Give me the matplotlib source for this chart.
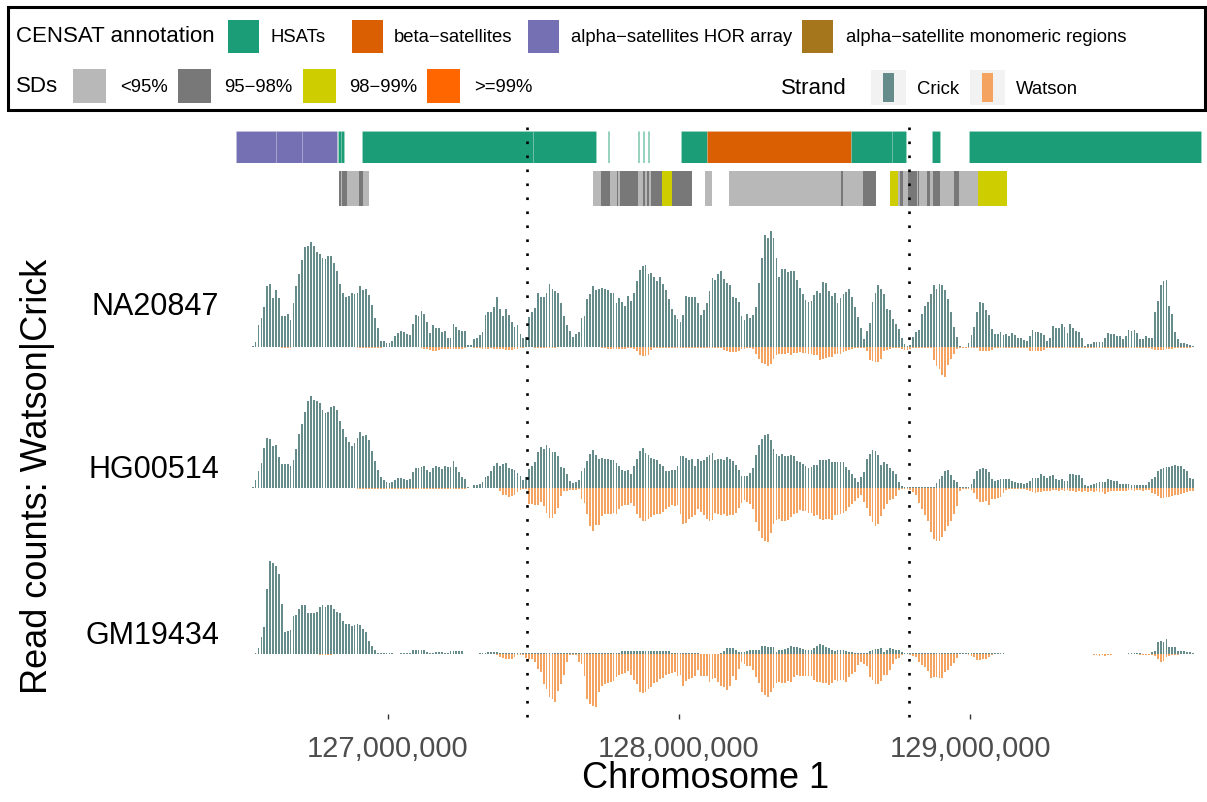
import numpy as np
import matplotlib
matplotlib.use("Agg")
import matplotlib.pyplot as plt
from matplotlib.patches import Rectangle
from matplotlib.lines import Line2D
from matplotlib.ticker import FuncFormatter, FixedLocator

# ---------------- data ----------------
BIN_START = 126_530_000
BIN_SIZE = 10_000
samples = ["NA20847", "HG00514", "GM19434"]

na_crick = [1, 5, 22, 29, 40, 60, 62, 48, 56, 48,
            31, 31, 33, 27, 43, 60, 72, 86, 99, 100,
            104, 100, 94, 92, 88, 87, 90, 90, 83, 75,
            62, 53, 49, 50, 53, 52, 53, 60, 56, 57,
            51, 42, 29, 19, 6, 6, 4, 4, 6, 11,
            14, 16, 15, 13, 12, 23, 32, 31, 36, 33,
            25, 14, 22, 19, 19, 15, 16, 9, 9, 23,
            20, 17, 16, 16, 2, 2, 8, 9, 12, 15,
            32, 35, 35, 40, 49, 38, 31, 38, 32, 25,
            20, 22, 13, 9, 10, 30, 35, 39, 53, 49,
            49, 53, 62, 57, 55, 53, 43, 31, 22, 16,
            10, 13, 15, 29, 31, 47, 52, 60, 56, 57,
            58, 57, 56, 53, 53, 43, 48, 44, 41, 50,
            45, 53, 65, 76, 80, 81, 72, 73, 69, 65,
            69, 62, 56, 47, 38, 32, 28, 25, 32, 50,
            49, 49, 49, 43, 32, 37, 43, 55, 68, 66,
            72, 75, 67, 63, 61, 49, 48, 44, 31, 27,
            33, 29, 32, 40, 63, 88, 111, 108, 115, 108,
            88, 69, 77, 77, 74, 75, 75, 66, 58, 52,
            46, 44, 45, 51, 55, 53, 64, 63, 55, 50,
            53, 43, 48, 52, 54, 57, 49, 40, 30, 19,
            8, 16, 24, 44, 53, 61, 57, 52, 38, 37,
            28, 23, 18, 9, 3, 1, 2, 10, 15, 17,
            33, 41, 44, 52, 61, 57, 62, 61, 56, 47,
            35, 20, 10, 1, 0, 0, 4, 12, 20, 35,
            44, 43, 37, 32, 18, 13, 13, 15, 12, 13,
            11, 14, 12, 9, 9, 7, 6, 11, 17, 15,
            15, 14, 12, 6, 9, 21, 19, 19, 23, 20,
            14, 23, 19, 16, 15, 9, 1, 3, 3, 5,
            5, 5, 5, 9, 14, 13, 13, 11, 11, 8,
            11, 17, 16, 17, 14, 8, 8, 11, 9, 9,
            35, 45, 61, 65, 66, 41, 33, 15, 8, 4,
            4, 3, 2, 1]

na_watson = [0, 0, 0, 0, 0, 0, 0, 0, 0, 0,
             1, 1, 1, 1, 0, 0, 0, 0, 0, 0,
             0, 0, 0, 0, 0, 0, 0, 0, 0, 0,
             0, 0, 0, 0, 0, 0, 1, 1, 1, 1,
             1, 1, 1, 1, 1, 0, 0, 0, 0, 0,
             0, 0, 0, 0, 0, 0, 0, 0, 1, 2,
             2, 3, 4, 4, 3, 2, 2, 2, 2, 2,
             2, 2, 2, 1, 0, 0, 1, 1, 1, 2,
             2, 2, 1, 2, 2, 2, 2, 3, 3, 3,
             2, 2, 1, 1, 0, 0, 0, 1, 1, 1,
             1, 1, 1, 1, 1, 0, 0, 0, 0, 0,
             0, 0, 0, 0, 0, 0, 0, 0, 0, 0,
             1, 1, 2, 2, 2, 2, 2, 2, 2, 1,
             1, 2, 4, 8, 9, 9, 8, 3, 1, 1,
             1, 1, 1, 1, 1, 1, 1, 1, 1, 1,
             1, 1, 1, 1, 1, 1, 1, 1, 1, 1,
             1, 1, 3, 4, 5, 5, 5, 4, 2, 2,
             1, 1, 2, 7, 12, 16, 17, 19, 17, 12,
             8, 7, 7, 7, 6, 8, 6, 6, 5, 6,
             6, 7, 7, 8, 8, 13, 12, 11, 10, 10,
             7, 7, 7, 5, 4, 3, 2, 1, 1, 1,
             1, 4, 13, 14, 15, 15, 12, 4, 3, 2,
             1, 1, 1, 2, 3, 3, 2, 1, 1, 1,
             1, 1, 1, 1, 13, 19, 22, 28, 30, 18,
             12, 7, 2, 1, 1, 1, 1, 1, 1, 1,
             4, 4, 4, 4, 3, 1, 1, 1, 1, 1,
             1, 1, 1, 1, 1, 1, 1, 4, 4, 4,
             4, 4, 3, 1, 1, 1, 1, 1, 1, 1,
             1, 1, 1, 1, 1, 1, 1, 1, 1, 1,
             1, 1, 1, 1, 1, 1, 1, 1, 1, 1,
             1, 1, 1, 1, 1, 1, 1, 1, 1, 2,
             3, 3, 3, 3, 2, 2, 2, 1, 1, 1,
             1, 1, 1, 0]

hg_crick = [1, 8, 17, 25, 40, 50, 49, 42, 43, 31,
            24, 24, 24, 22, 28, 39, 54, 64, 76, 87,
            92, 88, 87, 85, 78, 75, 76, 81, 82, 78,
            67, 59, 51, 46, 42, 45, 50, 56, 52, 53,
            48, 37, 27, 18, 11, 8, 6, 5, 6, 8,
            10, 10, 9, 8, 9, 16, 20, 20, 21, 22,
            18, 16, 20, 22, 21, 19, 22, 21, 21, 27,
            21, 16, 11, 9, 1, 0, 3, 3, 4, 6,
            11, 12, 17, 22, 25, 22, 24, 25, 20, 19,
            18, 15, 12, 8, 11, 19, 22, 26, 36, 41,
            39, 43, 40, 36, 36, 32, 21, 20, 14, 7,
            5, 6, 8, 17, 20, 27, 34, 38, 33, 29,
            30, 29, 29, 28, 28, 25, 22, 18, 17, 18,
            14, 22, 29, 37, 40, 35, 33, 30, 29, 28,
            24, 22, 17, 17, 18, 18, 22, 32, 32, 30,
            28, 29, 22, 29, 27, 28, 31, 33, 35, 28,
            29, 29, 28, 31, 29, 27, 23, 18, 12, 12,
            12, 15, 20, 33, 43, 49, 53, 54, 48, 39,
            34, 32, 34, 32, 32, 33, 32, 27, 26, 24,
            22, 20, 21, 23, 23, 28, 28, 28, 29, 26,
            26, 26, 26, 26, 21, 18, 14, 10, 6, 11,
            16, 29, 34, 38, 37, 33, 23, 26, 24, 20,
            17, 14, 6, 2, 1, 1, 1, 1, 1, 1,
            1, 1, 1, 1, 1, 5, 9, 12, 17, 18,
            13, 8, 6, 1, 1, 1, 1, 4, 9, 17,
            19, 20, 19, 16, 9, 7, 8, 9, 9, 9,
            9, 7, 6, 5, 5, 4, 5, 7, 10, 10,
            10, 14, 12, 10, 12, 13, 9, 8, 9, 7,
            7, 14, 14, 13, 13, 10, 3, 2, 3, 4,
            5, 6, 6, 6, 9, 8, 7, 7, 4, 4,
            4, 4, 3, 3, 3, 3, 3, 3, 6, 9,
            11, 17, 19, 20, 21, 21, 22, 23, 22, 22,
            19, 17, 10, 9]

hg_watson = [0, 0, 0, 0, 0, 0, 0, 0, 0, 0,
             0, 0, 0, 0, 0, 0, 0, 0, 0, 0,
             0, 0, 0, 0, 0, 0, 0, 0, 0, 0,
             0, 0, 0, 0, 0, 0, 1, 1, 1, 1,
             1, 1, 1, 1, 1, 1, 1, 1, 1, 1,
             1, 1, 1, 1, 1, 1, 1, 1, 1, 1,
             1, 1, 1, 1, 1, 1, 1, 1, 1, 1,
             1, 1, 1, 1, 0, 0, 0, 0, 0, 0,
             0, 0, 0, 0, 0, 3, 7, 7, 9, 8,
             7, 4, 2, 1, 1, 16, 16, 17, 17, 14,
             18, 25, 30, 30, 26, 20, 8, 3, 3, 2,
             2, 2, 1, 11, 15, 26, 38, 43, 37, 37,
             28, 26, 26, 26, 25, 26, 21, 18, 17, 17,
             15, 18, 26, 30, 33, 33, 31, 29, 27, 26,
             26, 24, 21, 19, 17, 18, 17, 26, 36, 35,
             31, 29, 27, 21, 24, 27, 31, 33, 32, 25,
             26, 27, 26, 28, 27, 27, 25, 20, 15, 12,
             14, 16, 21, 34, 43, 50, 53, 54, 45, 36,
             32, 31, 33, 33, 32, 29, 26, 25, 22, 23,
             23, 25, 25, 28, 27, 31, 32, 31, 31, 32,
             27, 27, 26, 25, 23, 19, 16, 13, 10, 7,
             14, 20, 28, 34, 38, 36, 28, 21, 16, 12,
             11, 8, 2, 1, 1, 1, 2, 4, 7, 15,
             21, 27, 33, 44, 51, 53, 53, 49, 43, 38,
             33, 26, 18, 3, 1, 1, 1, 2, 5, 11,
             14, 14, 13, 17, 11, 11, 10, 9, 5, 2,
             1, 1, 1, 1, 1, 1, 2, 3, 4, 5,
             4, 4, 3, 3, 3, 2, 2, 3, 2, 3,
             2, 3, 3, 4, 3, 4, 3, 4, 3, 4,
             3, 4, 4, 6, 4, 3, 3, 3, 3, 3,
             3, 2, 2, 3, 2, 2, 3, 2, 2, 5,
             6, 8, 10, 10, 9, 9, 8, 7, 7, 6,
             5, 4, 3, 3]

gm_crick = [0, 1, 6, 17, 26, 64, 92, 90, 87, 79,
            49, 21, 22, 23, 37, 38, 44, 48, 48, 40,
            40, 40, 41, 46, 48, 46, 48, 48, 44, 41,
            40, 32, 29, 29, 27, 28, 29, 28, 24, 21,
            13, 8, 4, 1, 0.5, 0.5, 0.5, 0.5, 0.5, 0,
            0, 0.5, 0.5, 1, 1, 4, 4, 4, 4, 4,
            2, 1, 1, 2, 2, 2, 1, 1, 3, 3,
            3, 3, 3, 0, 0, 0, 0, 0, 0.5, 1,
            1, 2, 2, 2, 2, 1, 0.5, 0.5, 0.5, 0.5,
            0.5, 0.5, 0.5, 0.5, 0.5, 1, 1, 1, 1, 1,
            1, 1, 1, 1, 1, 1, 1, 1, 1, 1,
            1, 1, 1, 1, 1, 1, 1, 1, 1, 1,
            1, 1, 1, 1, 1, 1, 1, 3, 3, 3,
            3, 3, 3, 3, 3, 3, 3, 3, 3, 3,
            3, 3, 3, 3, 1, 1, 1, 1, 1, 1,
            1, 1, 1, 1, 0, 0, 0, 0, 0, 0,
            0, 1, 3, 6, 6, 6, 4, 2, 2, 2,
            3, 4, 4, 4, 4, 8, 8, 7, 7, 7,
            2, 4, 4, 5, 6, 8, 7, 7, 6, 5,
            4, 4, 4, 6, 8, 10, 9, 7, 6, 4,
            3, 4, 4, 4, 3, 2, 2, 1, 1, 1,
            1, 1, 3, 4, 5, 5, 6, 2, 4, 6,
            5, 4, 4, 2, 1, 0.5, 0.5, 0.5, 0.5, 0.5,
            1, 1, 1, 1, 1, 1, 1, 1, 1, 1,
            1, 1, 1, 1, 1, 1, 1, 1, 1, 1,
            1, 1, 1, 1, 1, 1, 1, 1, 1, 0,
            0, 0, 0, 0, 0, 0, 0, 0, 0, 0,
            0, 0, 0, 0, 0, 0, 0, 0, 0, 0,
            0, 0, 0, 0, 0, 0, 0, 0, 0, 0,
            0, 0, 0, 0, 0, 0, 0, 0, 0, 0,
            0, 1, 1, 1, 1, 1, 0, 0, 0, 2,
            3, 12, 13, 12, 15, 7, 7, 7, 3, 3,
            3, 2, 2, 1]

gm_watson = [0, 0, 0, 0, 0, 0, 0, 0, 0, 0,
             0, 0, 0, 0, 0, 0, 0, 0, 0, 0,
             0, 0, 0, 1, 1, 1, 1, 1, 0, 0,
             0, 0, 0, 0, 0, 0, 0, 0, 0, 0,
             0, 0, 0, 0, 0, 0, 0, 0, 0, 0,
             0, 0, 0, 0, 0, 0, 0, 0, 0, 0,
             0, 0, 0, 0, 0, 0, 0, 0, 0, 0,
             0, 0, 0, 0, 0, 0, 0, 0, 0, 0,
             0, 0, 0, 0, 1, 3, 4, 5, 5, 5,
             3, 1, 1, 1, 4, 5, 5, 8, 15, 18,
             30, 35, 43, 45, 48, 37, 30, 21, 8, 1,
             1, 1, 8, 10, 22, 45, 50, 52, 53, 38,
             32, 30, 29, 28, 27, 23, 21, 20, 19, 17,
             21, 26, 30, 38, 39, 38, 35, 33, 29, 28,
             25, 24, 21, 20, 19, 18, 22, 21, 32, 27,
             25, 24, 22, 16, 22, 22, 22, 28, 25, 24,
             28, 32, 33, 36, 32, 22, 26, 15, 8, 10,
             12, 12, 16, 23, 29, 38, 41, 43, 38, 34,
             29, 28, 29, 29, 27, 28, 23, 21, 22, 22,
             22, 22, 22, 26, 28, 28, 29, 29, 31, 29,
             26, 27, 26, 26, 28, 23, 20, 18, 11, 8,
             10, 12, 23, 26, 30, 30, 27, 21, 21, 16,
             10, 5, 4, 1, 0.5, 0.5, 1, 2, 3, 8,
             11, 13, 17, 24, 23, 23, 24, 24, 18, 16,
             12, 9, 4, 0.5, 0.5, 0.5, 1, 2, 3, 6,
             6, 5, 5, 3, 1, 0.5, 0.5, 0.5, 0.5, 0,
             0, 0, 0, 0, 0, 0, 0.5, 0.5, 0.5, 0.5,
             0.5, 0, 0, 0, 0, 0.5, 0.5, 0.5, 0.5, 0.5,
             0, 0, 0, 0, 0, 0, 0, 0, 0, 1,
             1, 2, 1, 2, 1, 1, 0.5, 0.5, 0.5, 0.5,
             0.5, 0.5, 0.5, 0.5, 0.5, 1, 1, 1, 1, 1,
             2, 5, 8, 7, 3, 2, 1, 1, 1, 0.5,
             0.5, 0.5, 0.5, 0.5]

# CENSAT annotation (start, end in Mb, class)
censat_start = [126.478, 126.614, 126.703, 126.829, 126.838, 126.910, 127.499,
                127.756, 127.859, 127.878, 127.893, 128.007, 128.095, 128.590,
                128.731, 128.870, 128.998]
censat_end = [126.614, 126.703, 126.826, 126.838, 126.849, 127.499, 127.714,
              127.760, 127.862, 127.881, 127.896, 128.095, 128.590, 128.731,
              128.779, 128.897, 129.793]
censat_class = ["hor", "hor", "hor", "hsat", "hsat", "hsat", "hsat",
                "hsat", "hsat", "hsat", "hsat", "hsat", "beta", "hsat",
                "hsat", "hsat", "hsat"]

# Segmental duplications (start, end in Mb, identity class)
sd_start = [126.831, 126.840, 126.843, 126.858, 126.901, 126.915,
            127.703, 127.733, 127.763, 127.786, 127.791, 127.797, 127.860,
            127.877, 127.883, 127.889, 127.897, 127.903, 127.941, 127.975,
            128.089, 128.173, 128.556, 128.563, 128.633,
            128.725, 128.752, 128.760, 128.769, 128.788, 128.817, 128.822,
            128.825, 128.851, 128.863, 128.874, 128.897, 128.920, 128.922,
            128.945, 128.963, 129.029]
sd_end = [126.840, 126.843, 126.858, 126.901, 126.915, 126.936,
          127.733, 127.763, 127.786, 127.791, 127.797, 127.860, 127.877,
          127.883, 127.889, 127.897, 127.903, 127.941, 127.975, 128.044,
          128.114, 128.556, 128.563, 128.633, 128.676,
          128.752, 128.760, 128.769, 128.788, 128.817, 128.822, 128.825,
          128.851, 128.863, 128.874, 128.897, 128.920, 128.922, 128.945,
          128.963, 129.029, 129.128]
sd_class = ["95-98", "<95", "95-98", "<95", "95-98", "<95",
            "<95", "95-98", "<95", "95-98", "<95", "95-98", "<95",
            "95-98", "<95", "95-98", "<95", "95-98", "98-99", "95-98",
            "<95", "<95", "95-98", "<95", "95-98",
            "98-99", "<95", "95-98", "<95", "95-98", "<95", "95-98",
            "<95", "95-98", "<95", "95-98", "<95", "95-98", "<95",
            "95-98", "<95", "98-99"]

breakpoints = [127_478_000, 128_790_000]
xticks = [127_000_000, 128_000_000, 129_000_000]

censat_labels = ["HSATs", "beta\u2212satellites", "alpha\u2212satellites HOR array",
                 "alpha\u2212satellite monomeric regions"]
sd_labels = ["<95%", "95\u221298%", "98\u221299%", ">=99%"]

# ---------------- style ----------------
CRICK = "#668B8B"
WATSON = "#F4A460"
censat_colors = {"hsat": "#1B9E77", "beta": "#D95F02", "hor": "#7570B3", "mono": "#A6761D"}
sd_colors = {"<95": "#B8B8B8", "95-98": "#787878", "98-99": "#CDCD00", ">=99": "#FF6600"}

plt.rcParams['font.family'] = ['Liberation Sans', 'DejaVu Sans']

W, H = 1207, 803
fig = plt.figure(figsize=(W / 100, H / 100), dpi=100)

def fx(x):
    return x / W

def fy(y):
    return 1 - y / H

def axes_px(l, t, r, b):
    return fig.add_axes([l / W, 1 - b / H, (r - l) / W, (b - t) / H])

PL, PR = 232, 1203
XMIN = 127_000_000 - (388 - PL) / 291 * 1e6
XMAX = 127_000_000 + (PR - 388) / 291 * 1e6

def clean(ax):
    ax.set_xlim(XMIN, XMAX)
    for s in ax.spines.values():
        s.set_visible(False)
    ax.set_yticks([])
    ax.set_xticks([])
    ax.set_facecolor("none")

# annotation tracks
ax_c = axes_px(PL, 132, PR, 164)
clean(ax_c)
ax_c.set_ylim(0, 1)
for s, e, c in zip(censat_start, censat_end, censat_class):
    ax_c.add_patch(Rectangle((s * 1e6, 0), (e - s) * 1e6, 1, facecolor=censat_colors[c],
                             edgecolor=(1, 1, 1, 0.2), linewidth=0.4))

ax_s = axes_px(PL, 172, PR, 207)
clean(ax_s)
ax_s.set_ylim(0, 1)
for s, e, c in zip(sd_start, sd_end, sd_class):
    ax_s.add_patch(Rectangle((s * 1e6, 0), (e - s) * 1e6, 1, facecolor=sd_colors[c],
                             edgecolor="none", linewidth=0))

# read count panels
series = [(na_crick, na_watson), (hg_crick, hg_watson), (gm_crick, gm_watson)]
panel_tb = [(225, 385), (390, 550), (555, 715)]
label_y = [307, 470, 636]
axes = []
for k, ((cr, wa), (t, b)) in enumerate(zip(series, panel_tb)):
    assert len(cr) == 324 and len(wa) == 324, (k, len(cr), len(wa))
    ax = axes_px(PL, t, PR, b)
    clean(ax)
    centers = BIN_START + BIN_SIZE * (np.arange(len(cr)) + 0.5)
    ax.bar(centers, cr, width=BIN_SIZE * 0.62, color=CRICK, linewidth=0)
    ax.bar(centers, -np.asarray(wa, dtype=float), width=BIN_SIZE * 0.62, color=WATSON, linewidth=0)
    ax.margins(x=0, y=0.05)
    ax.set_xlim(XMIN, XMAX)
    axes.append(ax)
    fig.text(fx(219), fy(label_y[k]), samples[k], ha="right", va="center", fontsize=22, color="black")

axb = axes[-1]
axb.xaxis.set_major_locator(FixedLocator(xticks))
axb.xaxis.set_major_formatter(FuncFormatter(lambda v, p: f"{int(round(v)):,}"))
axb.tick_params(axis="x", length=3.6, width=1.0, color="#333333", pad=10.5,
                labelsize=21, labelcolor="#4D4D4D")

fig.text(fx(706), fy(779), "Chromosome 1", ha="center", va="center", fontsize=26)
fig.text(fx(38), fy(476), "Read counts: Watson|Crick", ha="center", va="center",
         rotation=90, fontsize=26)

# dotted breakpoint lines
for bp in breakpoints:
    xd = axb.transData.transform((bp, 0))[0]
    xf = fig.transFigure.inverted().transform((xd, 0))[0]
    fig.add_artist(Line2D([xf, xf], [fy(128), fy(718)], transform=fig.transFigure,
                          color="black", lw=1.9, linestyle=(0, (1, 4.3)),
                          dash_capstyle="butt"))

# ---------------- legend ----------------
def rect_px(x0, y0, x1, y1, **kw):
    fig.add_artist(Rectangle((fx(x0), fy(y1)), (x1 - x0) / W, (y1 - y0) / H,
                             transform=fig.transFigure, **kw))

rect_px(8, 8, 1205, 111, facecolor="none", edgecolor="black", linewidth=2.2)

TITLE_FS = 16
LAB_FS = 13.3
r1 = 37
fig.text(fx(16), fy(r1), "CENSAT annotation", ha="left", va="center", fontsize=TITLE_FS)
cen_sw_x = [228, 352, 528, 802]
cen_lab_x = [270, 394, 571, 846]
for key, sx, lx, lab in zip(["hsat", "beta", "hor", "mono"], cen_sw_x, cen_lab_x, censat_labels):
    rect_px(sx, 21, sx + 31, 54, facecolor=censat_colors[key], edgecolor="none")
    fig.text(fx(lx), fy(r1), lab, ha="left", va="center", fontsize=LAB_FS)

r2 = 87
fig.text(fx(16), fy(r2), "SDs", ha="left", va="center", fontsize=TITLE_FS)
sd_sw_x = [73, 178, 303, 427]
sd_lab_x = [120, 224, 349, 474]
for key, sx, lx, lab in zip(["<95", "95-98", "98-99", ">=99"], sd_sw_x, sd_lab_x, sd_labels):
    rect_px(sx, 70, sx + 33, 104, facecolor=sd_colors[key], edgecolor="none")
    fig.text(fx(lx), fy(r2), lab, ha="left", va="center", fontsize=LAB_FS)

fig.text(fx(781), fy(89), "Strand", ha="left", va="center", fontsize=TITLE_FS)
for bx, col, lab, lx in [(871, CRICK, "Crick", 917), (970, WATSON, "Watson", 1016)]:
    rect_px(bx, 71, bx + 35, 106, facecolor="#F2F2F2", edgecolor="none")
    rect_px(bx + 12, 74, bx + 23, 103, facecolor=col, edgecolor="none")
    fig.text(fx(lx), fy(89), lab, ha="left", va="center", fontsize=LAB_FS)

fig.savefig("out.png", dpi=100)
